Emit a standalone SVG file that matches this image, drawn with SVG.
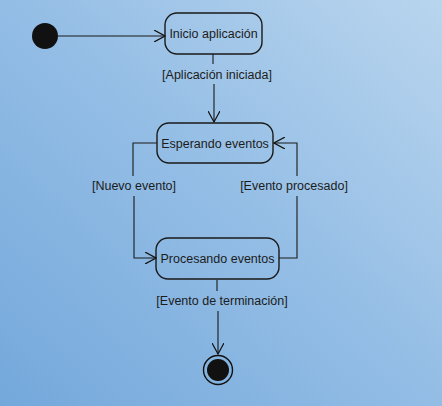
<svg xmlns="http://www.w3.org/2000/svg" width="442" height="406" viewBox="0 0 442 406">
<defs>
<linearGradient id="bg" x1="0" y1="1" x2="1" y2="0">
<stop offset="0" stop-color="#74a8db"/>
<stop offset="0.5" stop-color="#93bde5"/>
<stop offset="1" stop-color="#b9d5ee"/>
</linearGradient>
<marker id="open" viewBox="0 0 12 12" refX="11" refY="6" markerWidth="12" markerHeight="12" markerUnits="userSpaceOnUse" orient="auto">
<path d="M0,0 L11,6 L0,12" fill="none" stroke="#111" stroke-width="1.2"/>
</marker>
<style>
.state{fill:none;stroke:#1a1a1a;stroke-width:1.4}
.lbl{font-family:"Liberation Sans",Arial,sans-serif;font-size:12.5px;fill:#1c1c1c;text-anchor:middle}
.edge{fill:none;stroke:#1a1a1a;stroke-width:1.1}
</style>
</defs>
<rect width="442" height="406" fill="url(#bg)"/>
<g id="connectors">
<path class="edge" d="M58,36 L165,36" marker-end="url(#open)"/>
<path class="edge" d="M213,54 L213,64 M214,84 L214,122" marker-end="url(#open)"/>
<path class="edge" d="M157,143 L133,143 L133,176 M134,196 L134,258 L156,258" marker-end="url(#open)"/>
<path class="edge" d="M279,258 L297,258 L297,196 M297,176 L297,143 L274,143" marker-end="url(#open)"/>
<path class="edge" d="M217,280 L217,291 M218,311 L218,354" marker-end="url(#open)"/>
</g>
<g id="initial"><circle cx="45" cy="36" r="13" fill="#111"/></g>
<g id="inicio">
<rect class="state" x="165" y="13" width="97" height="41" rx="12"/>
<text class="lbl" x="213.5" y="38">Inicio aplicación</text>
</g>
<g id="esperando">
<rect class="state" x="157" y="123" width="116" height="40" rx="12"/>
<text class="lbl" x="215" y="147.5">Esperando eventos</text>
</g>
<g id="procesando">
<rect class="state" x="156" y="238" width="123" height="41" rx="12"/>
<text class="lbl" x="217.5" y="263">Procesando eventos</text>
</g>
<g id="final">
<circle cx="218" cy="370" r="14.5" fill="none" stroke="#111" stroke-width="1.4"/>
<circle cx="218" cy="370" r="11" fill="#111"/>
</g>
<g id="labels">
<text class="lbl" x="217" y="79">[Aplicación iniciada]</text>
<text class="lbl" x="134" y="190">[Nuevo evento]</text>
<text class="lbl" x="294" y="190">[Evento procesado]</text>
<text class="lbl" x="222" y="305">[Evento de terminación]</text>
</g>
</svg>
